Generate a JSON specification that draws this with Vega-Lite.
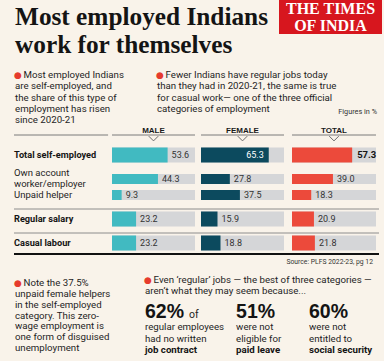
{
  "$schema": "https://vega.github.io/schema/vega-lite/v6.json",
  "background": "#F9F3EA",
  "padding": {"left": 13, "top": 0, "right": 3, "bottom": 0},
  "spacing": 0,
  "config": {"view": {"stroke": null}, "concat": {"spacing": 0}},
  "datasets": {
    "topNotes": [
      {"col": "left", "line": 0, "text": "Most employed Indians"},
      {"col": "left", "line": 1, "text": "are self-employed, and"},
      {"col": "left", "line": 2, "text": "the share of this type of"},
      {"col": "left", "line": 3, "text": "employment has risen"},
      {"col": "left", "line": 4, "text": "since 2020-21"},
      {"col": "right", "line": 0, "text": "Fewer Indians have regular jobs today"},
      {"col": "right", "line": 1, "text": "than they had in 2020-21, the same is true"},
      {"col": "right", "line": 2, "text": "for casual work— one of the three official"},
      {"col": "right", "line": 3, "text": "categories of employment"}
    ],
    "bars": [
      {"group": "MALE", "cat": "Total self-employed", "level": "main", "value": 53.6},
      {"group": "MALE", "cat": "Own account worker/employer", "level": "sub", "value": 44.3},
      {"group": "MALE", "cat": "Unpaid helper", "level": "sub", "value": 9.3},
      {"group": "MALE", "cat": "Regular salary", "level": "main", "value": 23.2},
      {"group": "MALE", "cat": "Casual labour", "level": "main", "value": 23.2},
      {"group": "FEMALE", "cat": "Total self-employed", "level": "main", "value": 65.3},
      {"group": "FEMALE", "cat": "Own account worker/employer", "level": "sub", "value": 27.8},
      {"group": "FEMALE", "cat": "Unpaid helper", "level": "sub", "value": 37.5},
      {"group": "FEMALE", "cat": "Regular salary", "level": "main", "value": 15.9},
      {"group": "FEMALE", "cat": "Casual labour", "level": "main", "value": 18.8},
      {"group": "TOTAL", "cat": "Total self-employed", "level": "main", "value": 57.3},
      {"group": "TOTAL", "cat": "Own account worker/employer", "level": "sub", "value": 39.0},
      {"group": "TOTAL", "cat": "Unpaid helper", "level": "sub", "value": 18.3},
      {"group": "TOTAL", "cat": "Regular salary", "level": "main", "value": 20.9},
      {"group": "TOTAL", "cat": "Casual labour", "level": "main", "value": 21.8}
    ],
    "rowLabels": [
      {"cat": "Total self-employed", "level": "main", "label": "Total self-employed"},
      {"cat": "Own account worker/employer", "level": "sub", "label": ["Own account", "worker/employer"]},
      {"cat": "Unpaid helper", "level": "sub", "label": "Unpaid helper"},
      {"cat": "Regular salary", "level": "main", "label": "Regular salary"},
      {"cat": "Casual labour", "level": "main", "label": "Casual labour"}
    ],
    "seps": [{"k": "g5"}, {"k": "g7"}],
    "thick": [{"k": "end"}],
    "hdr": [{"k": "header"}],
    "notch": [{"k": "notch"}],
    "noteLines": [
      {"col": "note", "line": 0, "text": "Note the 37.5%"},
      {"col": "note", "line": 1, "text": "unpaid female helpers"},
      {"col": "note", "line": 2, "text": "in the self-employed"},
      {"col": "note", "line": 3, "text": "category. This zero-"},
      {"col": "note", "line": 4, "text": "wage employment is"},
      {"col": "note", "line": 5, "text": "one form of disguised"},
      {"col": "note", "line": 6, "text": "unemployment"}
    ],
    "evenLines": [
      {"col": "even", "line": 0, "text": "Even ‘regular’ jobs — the best of three categories —"},
      {"col": "even", "line": 1, "text": "aren’t what they may seem because..."}
    ],
    "statLines": [
      {"col": "s1", "line": 0, "text": "62%"},
      {"col": "s1", "line": 1, "text": "regular employees"},
      {"col": "s1", "line": 2, "text": "had no written"},
      {"col": "s1", "line": 3, "text": "job contract"},
      {"col": "s2", "line": 0, "text": "51%"},
      {"col": "s2", "line": 1, "text": "were not"},
      {"col": "s2", "line": 2, "text": "eligible for"},
      {"col": "s2", "line": 3, "text": "paid leave"},
      {"col": "s3", "line": 0, "text": "60%"},
      {"col": "s3", "line": 1, "text": "were not"},
      {"col": "s3", "line": 2, "text": "entitled to"},
      {"col": "s3", "line": 3, "text": "social security"}
    ]
  },
  "vconcat": [
    {
      "spacing": 0,
      "bounds": "flush",
      "hconcat": [
        {
          "width": 265,
          "height": 127,
          "layer": [
            {
              "data": {"values": [{"col": "left", "line": 0, "text": "Most employed Indians"}, {"col": "left", "line": 1, "text": "work for themselves"}]},
              "mark": {"type": "text", "font": "Liberation Serif", "fontSize": 25.3, "fontWeight": "bold", "align": "left", "baseline": "alphabetic", "color": "#141414"},
              "encoding": {
                "x": {"field": "col", "type": "nominal", "scale": {"type": "point", "domain": ["left"], "range": [1, 1], "padding": 0}, "axis": null},
                "y": {"field": "line", "type": "quantitative", "scale": {"domain": [0, 1], "range": [25, 53]}, "axis": null},
                "text": {"field": "text"}
              }
            },
            {
              "data": {"name": "topNotes"},
              "transform": [{"filter": "datum.line > 0"}],
              "mark": {"type": "text", "font": "Roboto", "fontSize": 9.7, "align": "left", "baseline": "middle", "color": "#1e1e1e"},
              "encoding": {
                "x": {"field": "col", "type": "nominal", "scale": {"type": "point", "domain": ["left", "right"], "range": [1, 143], "padding": 0}, "axis": null},
                "y": {"field": "line", "type": "quantitative", "scale": {"domain": [0, 4], "range": [75, 120]}, "axis": null},
                "text": {"field": "text"}
              }
            },
            {
              "data": {"name": "topNotes"},
              "transform": [{"filter": "datum.line === 0"}],
              "mark": {"type": "text", "font": "Roboto", "fontSize": 9.7, "align": "left", "baseline": "middle", "dx": 8.5, "color": "#1e1e1e"},
              "encoding": {
                "x": {"field": "col", "type": "nominal", "scale": {"type": "point", "domain": ["left", "right"], "range": [1, 143], "padding": 0}, "axis": null},
                "y": {"field": "line", "type": "quantitative", "scale": {"domain": [0, 4], "range": [75, 120]}, "axis": null},
                "text": {"field": "text"}
              }
            },
            {
              "data": {"name": "topNotes"},
              "transform": [{"filter": "datum.line === 0"}],
              "mark": {"type": "text", "font": "DejaVu Sans", "fontSize": 9, "align": "center", "baseline": "middle", "dx": 3, "color": "#E63B2E"},
              "encoding": {
                "x": {"field": "col", "type": "nominal", "scale": {"type": "point", "domain": ["left", "right"], "range": [1, 143], "padding": 0}, "axis": null},
                "y": {"field": "line", "type": "quantitative", "scale": {"domain": [0, 4], "range": [75, 120]}, "axis": null},
                "text": {"value": "●"}
              }
            },
            {
              "data": {"values": [{"col": "fig", "text": "Figures in %"}]},
              "mark": {"type": "text", "font": "Roboto", "fontSize": 7.3, "align": "right", "baseline": "middle", "color": "#333333"},
              "encoding": {
                "x": {"field": "col", "type": "nominal", "scale": {"type": "point", "domain": ["fig"], "range": [363, 363], "padding": 0}, "axis": null},
                "y": {"field": "col", "type": "nominal", "scale": {"type": "point", "domain": ["fig"], "range": [112, 112], "padding": 0}, "axis": null},
                "text": {"field": "text"}
              }
            }
          ],
          "resolve": {"scale": {"x": "independent", "y": "independent"}}
        },
        {
          "width": 103,
          "height": 34,
          "view": {"fill": "#D7161E", "stroke": null},
          "data": {"values": [{"line": "THE TIMES"}, {"line": "OF INDIA"}]},
          "mark": {"type": "text", "font": "Liberation Serif", "fontSize": 16, "fontWeight": "bold", "color": "#FFFFFF", "baseline": "middle", "align": "center"},
          "encoding": {
            "y": {"field": "line", "type": "nominal", "scale": {"type": "point", "domain": ["THE TIMES", "OF INDIA"], "range": [9, 26], "padding": 0}, "axis": null},
            "text": {"field": "line"}
          }
        }
      ]
    },
    {
      "spacing": 0,
      "bounds": "flush",
      "hconcat": [
        {
          "width": 98,
          "height": 128,
          "layer": [
            {
              "data": {"name": "hdr"},
              "mark": {"type": "rule", "color": "#7a7a7a", "strokeWidth": 1},
              "encoding": {
                "x": {"datum": 0, "type": "quantitative", "scale": {"domain": [0, 1], "nice": false}, "axis": null},
                "x2": {"datum": 0.96},
                "y": {"field": "k", "type": "nominal", "bandPosition": 1, "scale": {"type": "band", "domain": ["header","notch","g0","Total self-employed","g1","g2","Own account worker/employer","g3","Unpaid helper","g4","g5","Regular salary","g6","g7","Casual labour","end"], "paddingInner": 0, "paddingOuter": 0}, "axis": null}
              }
            },
            {
              "data": {"name": "seps"},
              "mark": {"type": "rule", "color": "#8c8c8c", "strokeWidth": 1},
              "encoding": {
                "y": {"field": "k", "type": "nominal", "bandPosition": 0.25, "scale": {"type": "band", "domain": ["header","notch","g0","Total self-employed","g1","g2","Own account worker/employer","g3","Unpaid helper","g4","g5","Regular salary","g6","g7","Casual labour","end"], "paddingInner": 0, "paddingOuter": 0}, "axis": null}
              }
            },
            {
              "data": {"name": "thick"},
              "mark": {"type": "rule", "color": "#111111", "strokeWidth": 2},
              "encoding": {
                "y": {"field": "k", "type": "nominal", "bandPosition": 0.88, "scale": {"type": "band", "domain": ["header","notch","g0","Total self-employed","g1","g2","Own account worker/employer","g3","Unpaid helper","g4","g5","Regular salary","g6","g7","Casual labour","end"], "paddingInner": 0, "paddingOuter": 0}, "axis": null}
              }
            },
            {
              "data": {"name": "rowLabels"},
              "transform": [{"filter": "datum.level === 'main'"}],
              "mark": {"type": "text", "font": "Roboto", "fontSize": 9.2, "fontWeight": "bold", "align": "left", "baseline": "middle", "color": "#141414"},
              "encoding": {
                "x": {"datum": 0, "type": "quantitative", "scale": {"domain": [0, 1], "nice": false}, "axis": null},
                "y": {"field": "cat", "type": "nominal", "scale": {"type": "band", "domain": ["header","notch","g0","Total self-employed","g1","g2","Own account worker/employer","g3","Unpaid helper","g4","g5","Regular salary","g6","g7","Casual labour","end"], "paddingInner": 0, "paddingOuter": 0}, "axis": null},
                "text": {"field": "label"}
              }
            },
            {
              "data": {"name": "rowLabels"},
              "transform": [{"filter": "datum.cat === 'Unpaid helper'"}],
              "mark": {"type": "text", "font": "Roboto", "fontSize": 9.5, "align": "left", "baseline": "middle", "color": "#1e1e1e"},
              "encoding": {
                "x": {"datum": 0, "type": "quantitative", "scale": {"domain": [0, 1], "nice": false}, "axis": null},
                "y": {"field": "cat", "type": "nominal", "scale": {"type": "band", "domain": ["header","notch","g0","Total self-employed","g1","g2","Own account worker/employer","g3","Unpaid helper","g4","g5","Regular salary","g6","g7","Casual labour","end"], "paddingInner": 0, "paddingOuter": 0}, "axis": null},
                "text": {"field": "label"}
              }
            },
            {
              "data": {"name": "rowLabels"},
              "transform": [{"filter": "datum.cat === 'Own account worker/employer'"}],
              "mark": {"type": "text", "font": "Roboto", "fontSize": 9.5, "align": "left", "baseline": "middle", "lineHeight": 10.5, "dy": -6, "color": "#1e1e1e"},
              "encoding": {
                "x": {"datum": 0, "type": "quantitative", "scale": {"domain": [0, 1], "nice": false}, "axis": null},
                "y": {"field": "cat", "type": "nominal", "scale": {"type": "band", "domain": ["header","notch","g0","Total self-employed","g1","g2","Own account worker/employer","g3","Unpaid helper","g4","g5","Regular salary","g6","g7","Casual labour","end"], "paddingInner": 0, "paddingOuter": 0}, "axis": null},
                "text": {"field": "label"}
              }
            }
          ]
        },
        {
          "width": 89,
          "height": 128,
          "layer": [
            {
              "data": {"name": "bars"},
              "transform": [{"filter": "datum.group === 'MALE'"}],
              "mark": {"type": "bar", "color": "#D5D6D8"},
              "encoding": {
                "x": {"datum": 80, "type": "quantitative", "scale": {"domain": [0, 85.78], "nice": false}, "axis": null},
                "x2": {"datum": 0},
                "y": {"field": "cat", "type": "nominal", "scale": {"type": "band", "domain": ["header","notch","g0","Total self-employed","g1","g2","Own account worker/employer","g3","Unpaid helper","g4","g5","Regular salary","g6","g7","Casual labour","end"], "paddingInner": 0, "paddingOuter": 0}, "axis": null},
                "size": {"field": "level", "type": "ordinal", "scale": {"domain": ["main", "sub"], "range": [15, 10]}, "legend": null}
              }
            },
            {
              "data": {"name": "bars"},
              "transform": [{"filter": "datum.group === 'MALE'"}],
              "mark": {"type": "bar", "color": "#41BAC1"},
              "encoding": {
                "x": {"field": "value", "type": "quantitative", "scale": {"domain": [0, 85.78], "nice": false}, "axis": null},
                "y": {"field": "cat", "type": "nominal", "scale": {"type": "band", "domain": ["header","notch","g0","Total self-employed","g1","g2","Own account worker/employer","g3","Unpaid helper","g4","g5","Regular salary","g6","g7","Casual labour","end"], "paddingInner": 0, "paddingOuter": 0}, "axis": null},
                "size": {"field": "level", "type": "ordinal", "scale": {"domain": ["main", "sub"], "range": [15, 10]}, "legend": null}
              }
            },
            {
              "data": {"name": "bars"},
              "transform": [{"filter": "datum.group === 'MALE'"}],
              "mark": {"type": "text", "font": "Roboto", "fontSize": 9, "align": "left", "baseline": "middle", "dx": 4, "color": "#333333"},
              "encoding": {
                "x": {"field": "value", "type": "quantitative", "scale": {"domain": [0, 85.78], "nice": false}, "axis": null},
                "y": {"field": "cat", "type": "nominal", "scale": {"type": "band", "domain": ["header","notch","g0","Total self-employed","g1","g2","Own account worker/employer","g3","Unpaid helper","g4","g5","Regular salary","g6","g7","Casual labour","end"], "paddingInner": 0, "paddingOuter": 0}, "axis": null},
                "text": {"field": "value", "type": "quantitative", "format": ".1f"}
              }
            },
            {
              "data": {"name": "hdr"},
              "mark": {"type": "rule", "color": "#7a7a7a", "strokeWidth": 1},
              "encoding": {
                "x": {"datum": 0, "type": "quantitative", "scale": {"domain": [0, 85.78], "nice": false}, "axis": null},
                "x2": {"datum": 80},
                "y": {"field": "k", "type": "nominal", "bandPosition": 1, "scale": {"type": "band", "domain": ["header","notch","g0","Total self-employed","g1","g2","Own account worker/employer","g3","Unpaid helper","g4","g5","Regular salary","g6","g7","Casual labour","end"], "paddingInner": 0, "paddingOuter": 0}, "axis": null}
              }
            },
            {
              "data": {"values": [{"k": "header", "t": "MALE"}]},
              "mark": {"type": "text", "font": "Liberation Sans", "fontSize": 8, "fontWeight": "bold", "align": "center", "baseline": "middle", "color": "#1a1a1a"},
              "encoding": {
                "x": {"datum": 40, "type": "quantitative", "scale": {"domain": [0, 85.78], "nice": false}, "axis": null},
                "y": {"field": "k", "type": "nominal", "scale": {"type": "band", "domain": ["header","notch","g0","Total self-employed","g1","g2","Own account worker/employer","g3","Unpaid helper","g4","g5","Regular salary","g6","g7","Casual labour","end"], "paddingInner": 0, "paddingOuter": 0}, "axis": null},
                "text": {"field": "t"}
              }
            },
            {
              "data": {"name": "notch"},
              "mark": {"type": "point", "shape": "M-1,-0.6L0,0.4L1,-0.6", "filled": false, "color": "#6a6a6a", "strokeWidth": 1, "size": 90, "opacity": 1},
              "encoding": {
                "x": {"datum": 40, "type": "quantitative", "scale": {"domain": [0, 85.78], "nice": false}, "axis": null},
                "y": {"field": "k", "type": "nominal", "scale": {"type": "band", "domain": ["header","notch","g0","Total self-employed","g1","g2","Own account worker/employer","g3","Unpaid helper","g4","g5","Regular salary","g6","g7","Casual labour","end"], "paddingInner": 0, "paddingOuter": 0}, "axis": null}
              }
            },
            {
              "data": {"name": "seps"},
              "mark": {"type": "rule", "color": "#8c8c8c", "strokeWidth": 1},
              "encoding": {
                "y": {"field": "k", "type": "nominal", "bandPosition": 0.25, "scale": {"type": "band", "domain": ["header","notch","g0","Total self-employed","g1","g2","Own account worker/employer","g3","Unpaid helper","g4","g5","Regular salary","g6","g7","Casual labour","end"], "paddingInner": 0, "paddingOuter": 0}, "axis": null}
              }
            },
            {
              "data": {"name": "thick"},
              "mark": {"type": "rule", "color": "#111111", "strokeWidth": 2},
              "encoding": {
                "y": {"field": "k", "type": "nominal", "bandPosition": 0.88, "scale": {"type": "band", "domain": ["header","notch","g0","Total self-employed","g1","g2","Own account worker/employer","g3","Unpaid helper","g4","g5","Regular salary","g6","g7","Casual labour","end"], "paddingInner": 0, "paddingOuter": 0}, "axis": null}
              }
            }
          ]
        },
        {
          "width": 91,
          "height": 128,
          "layer": [
            {
              "data": {"name": "bars"},
              "transform": [{"filter": "datum.group === 'FEMALE'"}],
              "mark": {"type": "bar", "color": "#D5D6D8"},
              "encoding": {
                "x": {"datum": 80, "type": "quantitative", "scale": {"domain": [0, 87.71], "nice": false}, "axis": null},
                "x2": {"datum": 0},
                "y": {"field": "cat", "type": "nominal", "scale": {"type": "band", "domain": ["header","notch","g0","Total self-employed","g1","g2","Own account worker/employer","g3","Unpaid helper","g4","g5","Regular salary","g6","g7","Casual labour","end"], "paddingInner": 0, "paddingOuter": 0}, "axis": null},
                "size": {"field": "level", "type": "ordinal", "scale": {"domain": ["main", "sub"], "range": [15, 10]}, "legend": null}
              }
            },
            {
              "data": {"name": "bars"},
              "transform": [{"filter": "datum.group === 'FEMALE'"}],
              "mark": {"type": "bar", "color": "#0C4A5E"},
              "encoding": {
                "x": {"field": "value", "type": "quantitative", "scale": {"domain": [0, 87.71], "nice": false}, "axis": null},
                "y": {"field": "cat", "type": "nominal", "scale": {"type": "band", "domain": ["header","notch","g0","Total self-employed","g1","g2","Own account worker/employer","g3","Unpaid helper","g4","g5","Regular salary","g6","g7","Casual labour","end"], "paddingInner": 0, "paddingOuter": 0}, "axis": null},
                "size": {"field": "level", "type": "ordinal", "scale": {"domain": ["main", "sub"], "range": [15, 10]}, "legend": null}
              }
            },
            {
              "data": {"name": "bars"},
              "transform": [{"filter": "datum.group === 'FEMALE' && datum.value <= 60"}],
              "mark": {"type": "text", "font": "Roboto", "fontSize": 9, "align": "left", "baseline": "middle", "dx": 4, "color": "#333333"},
              "encoding": {
                "x": {"field": "value", "type": "quantitative", "scale": {"domain": [0, 87.71], "nice": false}, "axis": null},
                "y": {"field": "cat", "type": "nominal", "scale": {"type": "band", "domain": ["header","notch","g0","Total self-employed","g1","g2","Own account worker/employer","g3","Unpaid helper","g4","g5","Regular salary","g6","g7","Casual labour","end"], "paddingInner": 0, "paddingOuter": 0}, "axis": null},
                "text": {"field": "value", "type": "quantitative", "format": ".1f"}
              }
            },
            {
              "data": {"name": "bars"},
              "transform": [{"filter": "datum.group === 'FEMALE' && datum.value > 60"}],
              "mark": {"type": "text", "font": "Roboto", "fontSize": 9, "align": "right", "baseline": "middle", "dx": -5, "color": "#FFFFFF"},
              "encoding": {
                "x": {"field": "value", "type": "quantitative", "scale": {"domain": [0, 87.71], "nice": false}, "axis": null},
                "y": {"field": "cat", "type": "nominal", "scale": {"type": "band", "domain": ["header","notch","g0","Total self-employed","g1","g2","Own account worker/employer","g3","Unpaid helper","g4","g5","Regular salary","g6","g7","Casual labour","end"], "paddingInner": 0, "paddingOuter": 0}, "axis": null},
                "text": {"field": "value", "type": "quantitative", "format": ".1f"}
              }
            },
            {
              "data": {"name": "hdr"},
              "mark": {"type": "rule", "color": "#7a7a7a", "strokeWidth": 1},
              "encoding": {
                "x": {"datum": 0, "type": "quantitative", "scale": {"domain": [0, 87.71], "nice": false}, "axis": null},
                "x2": {"datum": 80},
                "y": {"field": "k", "type": "nominal", "bandPosition": 1, "scale": {"type": "band", "domain": ["header","notch","g0","Total self-employed","g1","g2","Own account worker/employer","g3","Unpaid helper","g4","g5","Regular salary","g6","g7","Casual labour","end"], "paddingInner": 0, "paddingOuter": 0}, "axis": null}
              }
            },
            {
              "data": {"values": [{"k": "header", "t": "FEMALE"}]},
              "mark": {"type": "text", "font": "Liberation Sans", "fontSize": 8, "fontWeight": "bold", "align": "center", "baseline": "middle", "color": "#1a1a1a"},
              "encoding": {
                "x": {"datum": 40, "type": "quantitative", "scale": {"domain": [0, 87.71], "nice": false}, "axis": null},
                "y": {"field": "k", "type": "nominal", "scale": {"type": "band", "domain": ["header","notch","g0","Total self-employed","g1","g2","Own account worker/employer","g3","Unpaid helper","g4","g5","Regular salary","g6","g7","Casual labour","end"], "paddingInner": 0, "paddingOuter": 0}, "axis": null},
                "text": {"field": "t"}
              }
            },
            {
              "data": {"name": "notch"},
              "mark": {"type": "point", "shape": "M-1,-0.6L0,0.4L1,-0.6", "filled": false, "color": "#6a6a6a", "strokeWidth": 1, "size": 90, "opacity": 1},
              "encoding": {
                "x": {"datum": 40, "type": "quantitative", "scale": {"domain": [0, 87.71], "nice": false}, "axis": null},
                "y": {"field": "k", "type": "nominal", "scale": {"type": "band", "domain": ["header","notch","g0","Total self-employed","g1","g2","Own account worker/employer","g3","Unpaid helper","g4","g5","Regular salary","g6","g7","Casual labour","end"], "paddingInner": 0, "paddingOuter": 0}, "axis": null}
              }
            },
            {
              "data": {"name": "seps"},
              "mark": {"type": "rule", "color": "#8c8c8c", "strokeWidth": 1},
              "encoding": {
                "y": {"field": "k", "type": "nominal", "bandPosition": 0.25, "scale": {"type": "band", "domain": ["header","notch","g0","Total self-employed","g1","g2","Own account worker/employer","g3","Unpaid helper","g4","g5","Regular salary","g6","g7","Casual labour","end"], "paddingInner": 0, "paddingOuter": 0}, "axis": null}
              }
            },
            {
              "data": {"name": "thick"},
              "mark": {"type": "rule", "color": "#111111", "strokeWidth": 2},
              "encoding": {
                "y": {"field": "k", "type": "nominal", "bandPosition": 0.88, "scale": {"type": "band", "domain": ["header","notch","g0","Total self-employed","g1","g2","Own account worker/employer","g3","Unpaid helper","g4","g5","Regular salary","g6","g7","Casual labour","end"], "paddingInner": 0, "paddingOuter": 0}, "axis": null}
              }
            }
          ]
        },
        {
          "width": 87,
          "height": 128,
          "layer": [
            {
              "data": {"name": "bars"},
              "transform": [{"filter": "datum.group === 'TOTAL'"}],
              "mark": {"type": "bar", "color": "#D5D6D8"},
              "encoding": {
                "x": {"datum": 80, "type": "quantitative", "scale": {"domain": [0, 82.86], "nice": false}, "axis": null},
                "x2": {"datum": 0},
                "y": {"field": "cat", "type": "nominal", "scale": {"type": "band", "domain": ["header","notch","g0","Total self-employed","g1","g2","Own account worker/employer","g3","Unpaid helper","g4","g5","Regular salary","g6","g7","Casual labour","end"], "paddingInner": 0, "paddingOuter": 0}, "axis": null},
                "size": {"field": "level", "type": "ordinal", "scale": {"domain": ["main", "sub"], "range": [15, 10]}, "legend": null}
              }
            },
            {
              "data": {"name": "bars"},
              "transform": [{"filter": "datum.group === 'TOTAL'"}],
              "mark": {"type": "bar", "color": "#EC4A3B"},
              "encoding": {
                "x": {"field": "value", "type": "quantitative", "scale": {"domain": [0, 82.86], "nice": false}, "axis": null},
                "y": {"field": "cat", "type": "nominal", "scale": {"type": "band", "domain": ["header","notch","g0","Total self-employed","g1","g2","Own account worker/employer","g3","Unpaid helper","g4","g5","Regular salary","g6","g7","Casual labour","end"], "paddingInner": 0, "paddingOuter": 0}, "axis": null},
                "size": {"field": "level", "type": "ordinal", "scale": {"domain": ["main", "sub"], "range": [15, 10]}, "legend": null}
              }
            },
            {
              "data": {"name": "bars"},
              "transform": [{"filter": "datum.group === 'TOTAL' && datum.cat !== 'Total self-employed'"}],
              "mark": {"type": "text", "font": "Roboto", "fontSize": 9, "align": "left", "baseline": "middle", "dx": 4, "color": "#333333"},
              "encoding": {
                "x": {"field": "value", "type": "quantitative", "scale": {"domain": [0, 82.86], "nice": false}, "axis": null},
                "y": {"field": "cat", "type": "nominal", "scale": {"type": "band", "domain": ["header","notch","g0","Total self-employed","g1","g2","Own account worker/employer","g3","Unpaid helper","g4","g5","Regular salary","g6","g7","Casual labour","end"], "paddingInner": 0, "paddingOuter": 0}, "axis": null},
                "text": {"field": "value", "type": "quantitative", "format": ".1f"}
              }
            },
            {
              "data": {"name": "bars"},
              "transform": [{"filter": "datum.group === 'TOTAL' && datum.cat === 'Total self-employed'"}],
              "mark": {"type": "text", "font": "Roboto", "fontSize": 9.5, "fontWeight": "bold", "align": "left", "baseline": "middle", "dx": 5, "color": "#141414"},
              "encoding": {
                "x": {"field": "value", "type": "quantitative", "scale": {"domain": [0, 82.86], "nice": false}, "axis": null},
                "y": {"field": "cat", "type": "nominal", "scale": {"type": "band", "domain": ["header","notch","g0","Total self-employed","g1","g2","Own account worker/employer","g3","Unpaid helper","g4","g5","Regular salary","g6","g7","Casual labour","end"], "paddingInner": 0, "paddingOuter": 0}, "axis": null},
                "text": {"field": "value", "type": "quantitative", "format": ".1f"}
              }
            },
            {
              "data": {"name": "hdr"},
              "mark": {"type": "rule", "color": "#7a7a7a", "strokeWidth": 1},
              "encoding": {
                "x": {"datum": 0, "type": "quantitative", "scale": {"domain": [0, 82.86], "nice": false}, "axis": null},
                "x2": {"datum": 80},
                "y": {"field": "k", "type": "nominal", "bandPosition": 1, "scale": {"type": "band", "domain": ["header","notch","g0","Total self-employed","g1","g2","Own account worker/employer","g3","Unpaid helper","g4","g5","Regular salary","g6","g7","Casual labour","end"], "paddingInner": 0, "paddingOuter": 0}, "axis": null}
              }
            },
            {
              "data": {"values": [{"k": "header", "t": "TOTAL"}]},
              "mark": {"type": "text", "font": "Liberation Sans", "fontSize": 8, "fontWeight": "bold", "align": "center", "baseline": "middle", "color": "#1a1a1a"},
              "encoding": {
                "x": {"datum": 40, "type": "quantitative", "scale": {"domain": [0, 82.86], "nice": false}, "axis": null},
                "y": {"field": "k", "type": "nominal", "scale": {"type": "band", "domain": ["header","notch","g0","Total self-employed","g1","g2","Own account worker/employer","g3","Unpaid helper","g4","g5","Regular salary","g6","g7","Casual labour","end"], "paddingInner": 0, "paddingOuter": 0}, "axis": null},
                "text": {"field": "t"}
              }
            },
            {
              "data": {"name": "notch"},
              "mark": {"type": "point", "shape": "M-1,-0.6L0,0.4L1,-0.6", "filled": false, "color": "#6a6a6a", "strokeWidth": 1, "size": 90, "opacity": 1},
              "encoding": {
                "x": {"datum": 40, "type": "quantitative", "scale": {"domain": [0, 82.86], "nice": false}, "axis": null},
                "y": {"field": "k", "type": "nominal", "scale": {"type": "band", "domain": ["header","notch","g0","Total self-employed","g1","g2","Own account worker/employer","g3","Unpaid helper","g4","g5","Regular salary","g6","g7","Casual labour","end"], "paddingInner": 0, "paddingOuter": 0}, "axis": null}
              }
            },
            {
              "data": {"name": "seps"},
              "mark": {"type": "rule", "color": "#8c8c8c", "strokeWidth": 1},
              "encoding": {
                "y": {"field": "k", "type": "nominal", "bandPosition": 0.25, "scale": {"type": "band", "domain": ["header","notch","g0","Total self-employed","g1","g2","Own account worker/employer","g3","Unpaid helper","g4","g5","Regular salary","g6","g7","Casual labour","end"], "paddingInner": 0, "paddingOuter": 0}, "axis": null}
              }
            },
            {
              "data": {"name": "thick"},
              "mark": {"type": "rule", "color": "#111111", "strokeWidth": 2},
              "encoding": {
                "y": {"field": "k", "type": "nominal", "bandPosition": 0.88, "scale": {"type": "band", "domain": ["header","notch","g0","Total self-employed","g1","g2","Own account worker/employer","g3","Unpaid helper","g4","g5","Regular salary","g6","g7","Casual labour","end"], "paddingInner": 0, "paddingOuter": 0}, "axis": null}
              }
            }
          ]
        }
      ]
    },
    {
      "width": 368,
      "height": 106,
      "layer": [
        {
          "data": {"values": [{"col": "src", "text": "Source: PLFS 2022-23, pg 12"}]},
          "mark": {"type": "text", "font": "Roboto", "fontSize": 6.8, "align": "right", "baseline": "middle", "color": "#333333"},
          "encoding": {
            "x": {"field": "col", "type": "nominal", "scale": {"type": "point", "domain": ["src"], "range": [359, 359], "padding": 0}, "axis": null},
            "y": {"field": "col", "type": "nominal", "scale": {"type": "point", "domain": ["src"], "range": [6, 6], "padding": 0}, "axis": null},
            "text": {"field": "text"}
          }
        },
        {
          "data": {"name": "noteLines"},
          "transform": [{"filter": "datum.line > 0"}],
          "mark": {"type": "text", "font": "Roboto", "fontSize": 9.7, "align": "left", "baseline": "middle", "color": "#1e1e1e"},
          "encoding": {
            "x": {"field": "col", "type": "nominal", "scale": {"type": "point", "domain": ["note"], "range": [1, 1], "padding": 0}, "axis": null},
            "y": {"field": "line", "type": "quantitative", "scale": {"domain": [0, 6], "range": [27, 92]}, "axis": null},
            "text": {"field": "text"}
          }
        },
        {
          "data": {"name": "noteLines"},
          "transform": [{"filter": "datum.line === 0"}],
          "mark": {"type": "text", "font": "Roboto", "fontSize": 9.7, "align": "left", "baseline": "middle", "dx": 8.5, "color": "#1e1e1e"},
          "encoding": {
            "x": {"field": "col", "type": "nominal", "scale": {"type": "point", "domain": ["note"], "range": [1, 1], "padding": 0}, "axis": null},
            "y": {"field": "line", "type": "quantitative", "scale": {"domain": [0, 6], "range": [27, 92]}, "axis": null},
            "text": {"field": "text"}
          }
        },
        {
          "data": {"name": "noteLines"},
          "transform": [{"filter": "datum.line === 0"}],
          "mark": {"type": "text", "font": "DejaVu Sans", "fontSize": 9, "align": "center", "baseline": "middle", "dx": 3, "color": "#E63B2E"},
          "encoding": {
            "x": {"field": "col", "type": "nominal", "scale": {"type": "point", "domain": ["note"], "range": [1, 1], "padding": 0}, "axis": null},
            "y": {"field": "line", "type": "quantitative", "scale": {"domain": [0, 6], "range": [27, 92]}, "axis": null},
            "text": {"value": "●"}
          }
        },
        {
          "data": {"name": "evenLines"},
          "transform": [{"filter": "datum.line > 0"}],
          "mark": {"type": "text", "font": "Roboto", "fontSize": 9.7, "align": "left", "baseline": "middle", "color": "#1e1e1e"},
          "encoding": {
            "x": {"field": "col", "type": "nominal", "scale": {"type": "point", "domain": ["even"], "range": [131, 131], "padding": 0}, "axis": null},
            "y": {"field": "line", "type": "quantitative", "scale": {"domain": [0, 1], "range": [24, 35]}, "axis": null},
            "text": {"field": "text"}
          }
        },
        {
          "data": {"name": "evenLines"},
          "transform": [{"filter": "datum.line === 0"}],
          "mark": {"type": "text", "font": "Roboto", "fontSize": 9.7, "align": "left", "baseline": "middle", "dx": 8.5, "color": "#1e1e1e"},
          "encoding": {
            "x": {"field": "col", "type": "nominal", "scale": {"type": "point", "domain": ["even"], "range": [131, 131], "padding": 0}, "axis": null},
            "y": {"field": "line", "type": "quantitative", "scale": {"domain": [0, 1], "range": [24, 35]}, "axis": null},
            "text": {"field": "text"}
          }
        },
        {
          "data": {"name": "evenLines"},
          "transform": [{"filter": "datum.line === 0"}],
          "mark": {"type": "text", "font": "DejaVu Sans", "fontSize": 9, "align": "center", "baseline": "middle", "dx": 3, "color": "#E63B2E"},
          "encoding": {
            "x": {"field": "col", "type": "nominal", "scale": {"type": "point", "domain": ["even"], "range": [131, 131], "padding": 0}, "axis": null},
            "y": {"field": "line", "type": "quantitative", "scale": {"domain": [0, 1], "range": [24, 35]}, "axis": null},
            "text": {"value": "●"}
          }
        },
        {
          "data": {"name": "statLines"},
          "transform": [{"filter": "datum.line === 0"}],
          "mark": {"type": "text", "font": "Liberation Sans", "fontSize": 19.5, "fontWeight": "bold", "align": "left", "baseline": "alphabetic", "dy": 2.5, "color": "#141414"},
          "encoding": {
            "x": {"field": "col", "type": "nominal", "scale": {"type": "point", "domain": ["s1", "_1", "_2", "_3", "_4", "s2", "_5", "_6", "_7", "s3"], "range": [131, 295], "padding": 0}, "axis": null},
            "y": {"field": "line", "type": "quantitative", "scale": {"domain": [0, 3], "range": [59.5, 94]}, "axis": null},
            "text": {"field": "text"}
          }
        },
        {
          "data": {"values": [{"col": "s1", "line": 0, "text": "of"}]},
          "mark": {"type": "text", "font": "Roboto", "fontSize": 10.5, "align": "left", "baseline": "alphabetic", "dx": 44, "dy": 2.5, "color": "#1e1e1e"},
          "encoding": {
            "x": {"field": "col", "type": "nominal", "scale": {"type": "point", "domain": ["s1", "_1", "_2", "_3", "_4", "s2", "_5", "_6", "_7", "s3"], "range": [131, 295], "padding": 0}, "axis": null},
            "y": {"field": "line", "type": "quantitative", "scale": {"domain": [0, 3], "range": [59.5, 94]}, "axis": null},
            "text": {"field": "text"}
          }
        },
        {
          "data": {"name": "statLines"},
          "transform": [{"filter": "datum.line === 1 || datum.line === 2"}],
          "mark": {"type": "text", "font": "Roboto", "fontSize": 9.7, "align": "left", "baseline": "middle", "color": "#1e1e1e"},
          "encoding": {
            "x": {"field": "col", "type": "nominal", "scale": {"type": "point", "domain": ["s1", "_1", "_2", "_3", "_4", "s2", "_5", "_6", "_7", "s3"], "range": [131, 295], "padding": 0}, "axis": null},
            "y": {"field": "line", "type": "quantitative", "scale": {"domain": [0, 3], "range": [59.5, 94]}, "axis": null},
            "text": {"field": "text"}
          }
        },
        {
          "data": {"name": "statLines"},
          "transform": [{"filter": "datum.line === 3"}],
          "mark": {"type": "text", "font": "Roboto", "fontSize": 9.7, "fontWeight": "bold", "align": "left", "baseline": "middle", "color": "#141414"},
          "encoding": {
            "x": {"field": "col", "type": "nominal", "scale": {"type": "point", "domain": ["s1", "_1", "_2", "_3", "_4", "s2", "_5", "_6", "_7", "s3"], "range": [131, 295], "padding": 0}, "axis": null},
            "y": {"field": "line", "type": "quantitative", "scale": {"domain": [0, 3], "range": [59.5, 94]}, "axis": null},
            "text": {"field": "text"}
          }
        }
      ],
      "resolve": {"scale": {"x": "independent", "y": "independent"}}
    }
  ]
}
